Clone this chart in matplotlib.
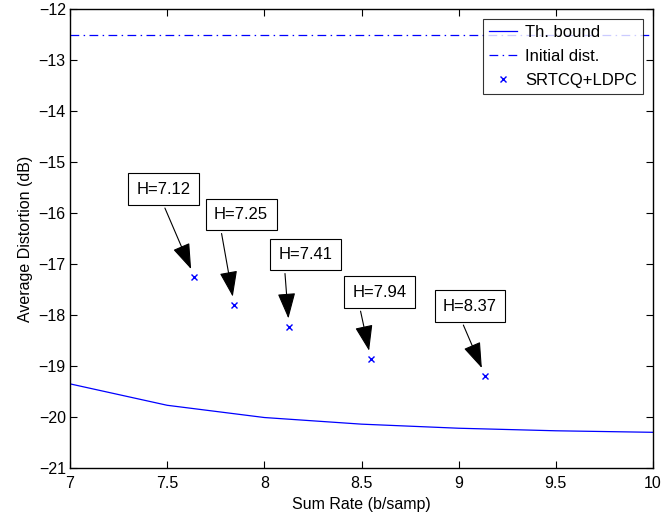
import matplotlib
matplotlib.use("Agg")
import matplotlib.pyplot as plt

plt.rcParams['font.family'] = ['Liberation Sans', 'DejaVu Sans']

# theoretical bound
rate_th = [7.0, 7.5, 8.0, 8.5, 9.0, 9.5, 10.0]
dist_th = [-19.35, -19.77, -20.01, -20.14, -20.22, -20.27, -20.30]

# initial distortion
init_dist = -12.5

# SRTCQ+LDPC results
rate_pts = [7.64, 7.845, 8.127, 8.548, 9.136]
dist_pts = [-17.25, -17.80, -18.23, -18.86, -19.19]
entropy = ['H=7.12', 'H=7.25', 'H=7.41', 'H=7.94', 'H=8.37']

# label box offsets (points) and arrow start on the box
offsets = [(-22, 63), (5, 65), (12, 52), (6, 48), (-11, 50)]
relpos = [(0.43, 0.0), (0.1, 0.0), (0.1, 0.0), (0.11, 0.0), (0.29, 0.0)]

fig = plt.figure(figsize=(6.65, 5.21), dpi=100)
ax = fig.add_axes([0.1053, 0.1017, 0.8767, 0.881])

ax.plot(rate_th, dist_th, '-', color='blue', lw=0.9, label='Th. bound')
ax.plot([7, 10], [init_dist, init_dist], color='blue', lw=0.9,
        dashes=(7, 3.5, 1.2, 3.5), label='Initial dist.')
ax.plot(rate_pts, dist_pts, 'x', color='blue', ms=5, mew=1.0,
        label='SRTCQ+LDPC')

for x, y, txt, off, rp in zip(rate_pts, dist_pts, entropy, offsets, relpos):
    ax.annotate(txt, xy=(x, y), xytext=off, textcoords='offset points',
                ha='center', va='center', fontsize=12,
                bbox=dict(boxstyle='square,pad=0.5', fc='white', ec='black', lw=0.8),
                arrowprops=dict(arrowstyle='-|>,head_length=1.15,head_width=0.4',
                                mutation_scale=14, color='black', lw=0.8,
                                relpos=rp, shrinkA=2, shrinkB=6))

ax.set_xlim(7, 10)
ax.set_ylim(-21, -12)
ax.set_xticks([7, 7.5, 8, 8.5, 9, 9.5, 10])
ax.set_xticklabels(['7', '7.5', '8', '8.5', '9', '9.5', '10'])
ax.set_yticks(range(-21, -11))
ax.tick_params(direction='in', length=5, top=True, right=True, labelsize=11.5)
ax.tick_params(axis='x', pad=6)
ax.tick_params(axis='y', pad=3)
for s in ax.spines.values():
    s.set_linewidth(1.0)

ax.set_xlabel('Sum Rate (b/samp)', fontsize=11.5, labelpad=4)
ax.set_ylabel('Average Distortion (dB)', fontsize=11.5, labelpad=4)

leg = ax.legend(loc='upper right', fontsize=12, frameon=True, fancybox=False,
                edgecolor='black', borderaxespad=0.6, handlelength=1.7,
                handletextpad=0.5, labelspacing=0.55, borderpad=0.35)
leg.get_frame().set_linewidth(0.8)

fig.savefig('out.png', dpi=100)
